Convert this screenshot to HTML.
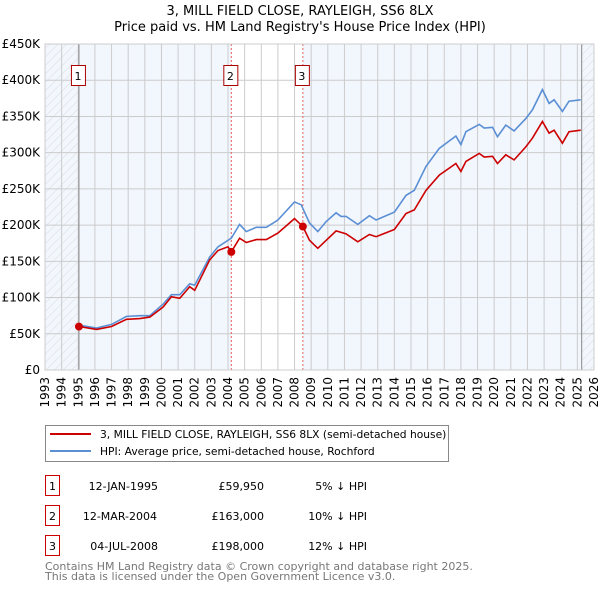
<!DOCTYPE html>
<html><head><meta charset="utf-8"><style>
body{margin:0;background:#fff;font-family:"DejaVu Sans","Liberation Sans",sans-serif;}
svg text{font-family:"DejaVu Sans","Liberation Sans",sans-serif;}
</style></head><body>
<svg id="c" width="600" height="590" xmlns="http://www.w3.org/2000/svg">
<defs><pattern id="hatch" width="6" height="6" patternUnits="userSpaceOnUse" patternTransform="rotate(45)"><line x1="0" y1="0" x2="0" y2="6" stroke="#d4d4d4" stroke-width="0.8"/></pattern></defs>
<text x="300" y="15" text-anchor="middle" font-size="13">3, MILL FIELD CLOSE, RAYLEIGH, SS6 8LX</text>
<text x="300" y="31" text-anchor="middle" font-size="13">Price paid vs. HM Land Registry's House Price Index (HPI)</text>
<g id="plot"></g>
<g>
<rect x="45.5" y="425.5" width="403" height="36" fill="#fff" stroke="#888"/>
<line x1="50" y1="434" x2="91" y2="434" stroke="#cc0000" stroke-width="2"/>
<text x="100" y="438" font-size="10.7">3, MILL FIELD CLOSE, RAYLEIGH, SS6 8LX (semi-detached house)</text>
<line x1="50" y1="451" x2="91" y2="451" stroke="#5b8fd4" stroke-width="2"/>
<text x="100" y="455" font-size="10.7">HPI: Average price, semi-detached house, Rochford</text>
</g>
<g font-size="11">
<rect x="45.5" y="475.5" width="14" height="20" fill="#fff" stroke="#cc0000"/><text x="52.5" y="490" text-anchor="middle">1</text>
<text x="158" y="490" text-anchor="end">12-JAN-1995</text><text x="264" y="490" text-anchor="end">£59,950</text><text x="367" y="490" text-anchor="end">5% ↓ HPI</text>
<rect x="45.5" y="505.5" width="14" height="20" fill="#fff" stroke="#cc0000"/><text x="52.5" y="520" text-anchor="middle">2</text>
<text x="157" y="520" text-anchor="end">12-MAR-2004</text><text x="264" y="520" text-anchor="end">£163,000</text><text x="367" y="520" text-anchor="end">10% ↓ HPI</text>
<rect x="45.5" y="535.5" width="14" height="20" fill="#fff" stroke="#cc0000"/><text x="52.5" y="550" text-anchor="middle">3</text>
<text x="158" y="550" text-anchor="end">04-JUL-2008</text><text x="264" y="550" text-anchor="end">£198,000</text><text x="367" y="550" text-anchor="end">12% ↓ HPI</text>
</g>
<text x="45" y="570" font-size="11" fill="#777">Contains HM Land Registry data © Crown copyright and database right 2025.</text>
<text x="45" y="580" font-size="11" fill="#777">This data is licensed under the Open Government Licence v3.0.</text>
</svg>
<script>
const yTicks=[0,50,100,150,200,250,300,350,400,450];
const yTickLabels=["£0","£50K","£100K","£150K","£200K","£250K","£300K","£350K","£400K","£450K"];
const years=[1993,1994,1995,1996,1997,1998,1999,2000,2001,2002,2003,2004,2005,2006,2007,2008,2009,2010,2011,2012,2013,2014,2015,2016,2017,2018,2019,2020,2021,2022,2023,2024,2025,2026];
const hpiT=[1995.0,1996.1,1997.0,1997.9,1998.7,1999.3,2000.1,2000.6,2001.1,2001.7,2002.0,2002.9,2003.4,2004.2,2004.7,2005.1,2005.7,2006.3,2007.0,2008.0,2008.4,2008.9,2009.4,2009.9,2010.5,2010.8,2011.1,2011.8,2012.5,2012.9,2014.0,2014.7,2015.2,2015.9,2016.7,2017.7,2018.0,2018.3,2019.1,2019.4,2019.9,2020.2,2020.7,2021.2,2021.9,2022.3,2022.9,2023.3,2023.6,2024.1,2024.5,2025.2];
const hpiV=[62,58,63,74,75,75,91,104,104,119,117,156,170,182,201,191,197,197,207,232,228,203,191,205,217,212,212,201,213,207,218,241,248,281,306,323,311,329,339,334,335,322,338,330,347,359,387,368,373,357,371,373];
const priceT=[1995.04,1996.1,1997.0,1997.9,1998.7,1999.3,2000.1,2000.6,2001.1,2001.7,2002.0,2002.9,2003.4,2004.0,2004.2,2004.7,2005.1,2005.7,2006.3,2007.0,2008.0,2008.5,2008.9,2009.4,2009.9,2010.5,2011.1,2011.8,2012.5,2012.9,2014.0,2014.7,2015.2,2015.9,2016.7,2017.7,2018.0,2018.3,2019.1,2019.4,2019.9,2020.2,2020.7,2021.2,2021.9,2022.3,2022.9,2023.3,2023.6,2024.1,2024.5,2025.2];
const priceV=[60,56,60,70,71,73,87,101,99,115,110,152,165,170,163,182,176,180,180,189,209,198,179,168,179,192,188,177,187,184,194,216,221,248,269,285,274,288,299,294,295,285,297,290,308,320,343,327,331,313,329,331];
const saleT=[1995.04,2004.2,2008.5];
const saleV=[59.95,163,198];
const saleLabels=["1","2","3"];
const X0=45,X1=594,Y0=370,Y1=44;
const x=t=>X0+(t-1993)/(2026-1993)*(X1-X0);
const y=v=>Y0-v/450*(Y0-Y1);
const NS="http://www.w3.org/2000/svg";
const g=document.getElementById('plot');
function mk(tag,attrs,parent){const e=document.createElementNS(NS,tag);for(const k in attrs)e.setAttribute(k,attrs[k]);(parent||g).appendChild(e);return e;}
let e;
e=mk('rect',{x:X0,y:Y1,width:X1-X0,height:Y0-Y1,fill:'#f2f6fd'});


e=mk('rect',{x:x(saleT[1]),y:Y1,width:x(saleT[2])-x(saleT[1]),height:Y0-Y1,fill:'#fff'});


e=mk('rect',{x:X0,y:Y1,width:x(saleT[0])-X0,height:Y0-Y1,fill:'url(#hatch)'});


e=mk('rect',{x:x(2025.26),y:Y1,width:X1-x(2025.26),height:Y0-Y1,fill:'url(#hatch)'});


yTicks.forEach((v,i)=>{
 e=mk('line',{x1:X0,x2:X1,y1:y(v),y2:y(v),stroke:'#ccc','stroke-width':1});
 
 
 e=mk('text',{x:X0-5,y:y(v)+4,'text-anchor':'end','font-size':12});
 e.textContent=yTickLabels[i];
 
 
});
years.forEach(yr=>{
 e=mk('line',{x1:x(yr),x2:x(yr),y1:Y1,y2:Y0,stroke:'#ccc','stroke-width':1});
 
 
 e=mk('text',{x:0,y:0,'font-size':12,'text-anchor':'end',transform:`translate(${x(yr)+4},${Y0+7}) rotate(-90)`});
 e.textContent=yr;
 
 
});
e=mk('line',{x1:x(saleT[0]),x2:x(saleT[0]),y1:Y1,y2:Y0,stroke:'#888'});


e=mk('line',{x1:x(2025.26),x2:x(2025.26),y1:Y1,y2:Y0,stroke:'#888'});


saleT.forEach((t,i)=>{
 if(i>0){
 e=mk('line',{x1:x(t),x2:x(t),y1:Y1,y2:Y0,stroke:'#e06060','stroke-dasharray':'2,2'});
 
 }
});
const pts=(T,V)=>T.map((t,i)=>x(t).toFixed(1)+','+y(V[i]).toFixed(1)).join(' ');
e=mk('polyline',{points:pts(hpiT,hpiV),fill:'none',stroke:'#5b8fd4','stroke-width':1.6});


e=mk('polyline',{points:pts(priceT,priceV),fill:'none',stroke:'#cc0000','stroke-width':1.6});


saleT.forEach((t,i)=>{
 e=mk('circle',{cx:x(t),cy:y(saleV[i]),r:4,fill:'#cc0000'});
 
 
 const bx=x(t)-7;
 e=mk('rect',{x:bx-0.5,y:65.5,width:14,height:20,fill:'#fff',stroke:'#aa0000'});
 
 
 e=mk('text',{x:x(t)-1,y:80,'text-anchor':'middle','font-size':11});
 e.textContent=saleLabels[i];
 
 
});
e=mk('rect',{x:X0,y:Y1,width:X1-X0,height:Y0-Y1,fill:'none',stroke:'#ccc'});


</script>
</body></html>
